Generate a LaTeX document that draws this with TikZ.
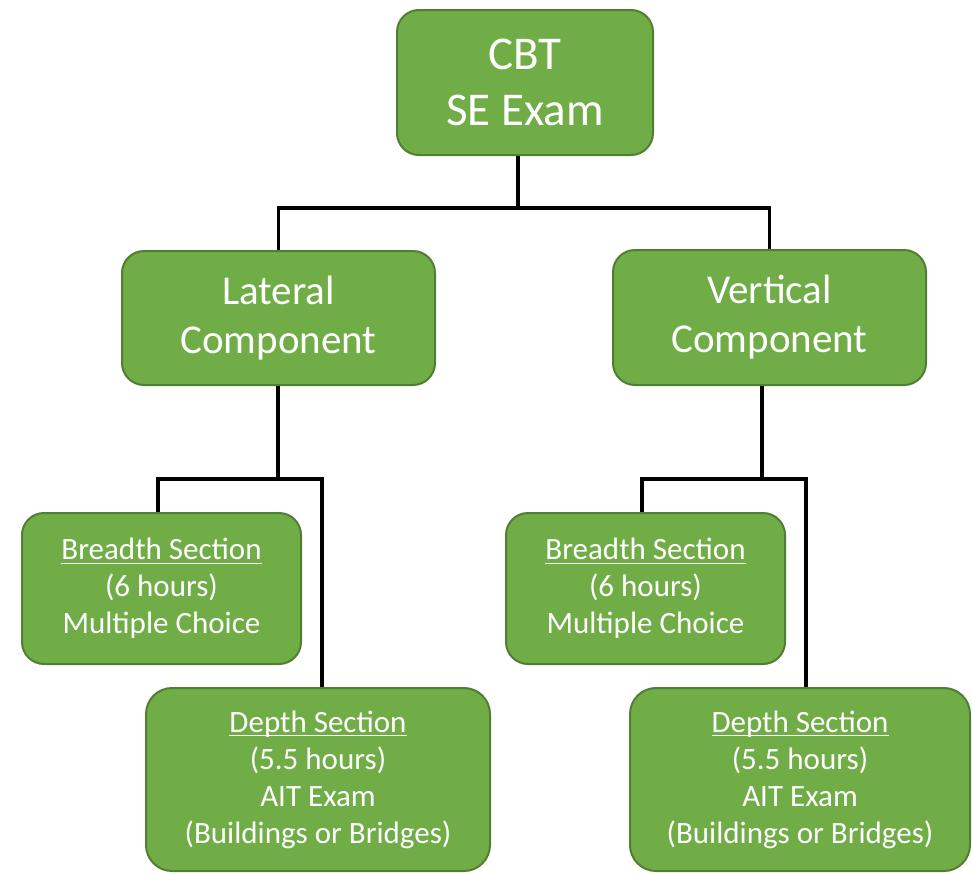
\documentclass[tikz,border=0pt]{standalone}
\usepackage{amsmath}
\usepackage{fontspec}
\setmainfont{Carlito}
\definecolor{boxfill}{HTML}{70AD47}
\definecolor{boxline}{HTML}{507E32}
\newcommand{\ulc}[1]{\underline{\smash[b]{#1}}}
\tikzset{
  box/.style={draw=boxline, fill=boxfill, line width=2pt, rounded corners=22pt,
    text=white, align=center, inner sep=0pt},
  bigtxt/.style={font=\fontsize{47}{56}\selectfont},
  midtxt/.style={font=\fontsize{41}{49}\selectfont},
  smalltxt/.style={font=\fontsize{31}{37}\selectfont},
  link/.style={line width=3.8pt, draw=black},
}
\begin{document}
\begin{tikzpicture}[x=1pt, y=-1pt]
\useasboundingbox (0,0) rectangle (972,873);

\node[box, bigtxt, minimum width=256pt, minimum height=145pt] (cbt) at (525,82.5) {CBT\\SE Exam};
\node[box, midtxt, minimum width=313pt, minimum height=134pt] (lat) at (278.5,318) {Lateral\\Component};
\node[box, midtxt, minimum width=313pt, minimum height=135pt] (ver) at (769.5,317.5) {Vertical\\Component};
\node[box, smalltxt, minimum width=279pt, minimum height=151pt] (b1) at (161.5,588.5) {\ulc{Breadth Section}\\(6 hours)\\Multiple Choice};
\node[box, smalltxt, minimum width=344pt, minimum height=183pt, rounded corners=26pt] (d1) at (318,779.5) {\ulc{Depth Section}\\(5.5 hours)\\AIT Exam\\(Buildings or Bridges)};
\node[box, smalltxt, minimum width=279pt, minimum height=151pt] (b2) at (645.5,588.5) {\ulc{Breadth Section}\\(6 hours)\\Multiple Choice};
\node[box, smalltxt, minimum width=340pt, minimum height=183pt, rounded corners=26pt] (d2) at (800,779.5) {\ulc{Depth Section}\\(5.5 hours)\\AIT Exam\\(Buildings or Bridges)};

\coordinate (j0) at (518,208);
\coordinate (j1) at (278,479);
\coordinate (j2) at (762,479);
\coordinate (c158) at (158,0);
\coordinate (c322) at (322,0);
\coordinate (c642) at (642,0);
\coordinate (c806) at (806,0);

\draw[link] (cbt.south -| j0) -- (j0);
\draw[link] (lat.north) |- (j0) -| (ver.north);
\draw[link] (lat.south -| j1) -- (j1);
\draw[link] (b1.north -| c158) |- (j1) -| (d1.north -| c322);
\draw[link] (ver.south -| j2) -- (j2);
\draw[link] (b2.north -| c642) |- (j2) -| (d2.north -| c806);
\end{tikzpicture}
\end{document}
